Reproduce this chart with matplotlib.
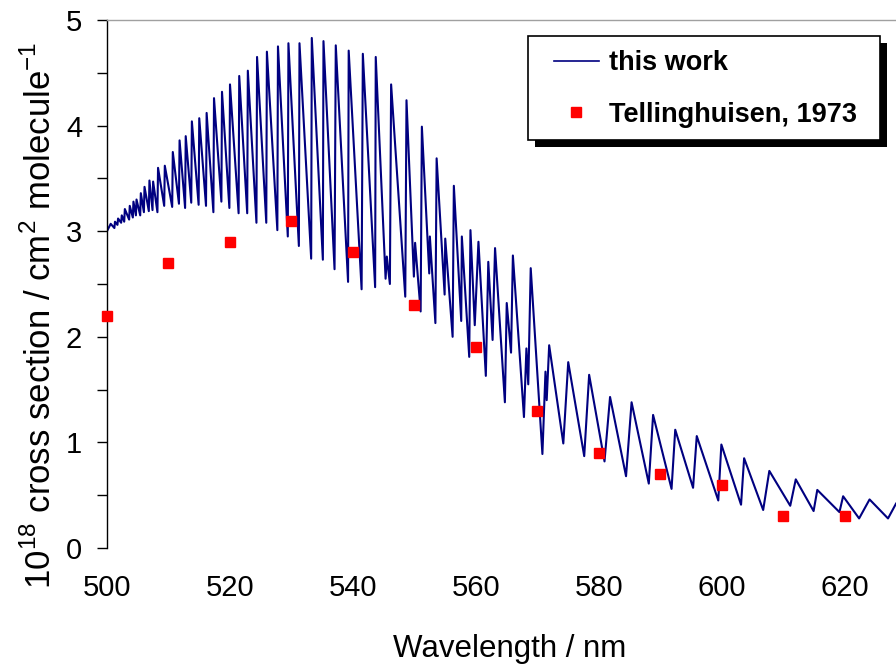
import matplotlib
matplotlib.use("Agg")
from matplotlib import pyplot as plt  # Graphics
from matplotlib.lines import Line2D
from matplotlib.patches import Rectangle
from matplotlib.ticker import MultipleLocator

plt.rcParams['font.family'] = ['Liberation Sans', 'DejaVu Sans']
plt.rcParams['mathtext.fontset'] = 'custom'
plt.rcParams['mathtext.rm'] = 'Liberation Sans'

# "this work" spectrum, read band by band: trough before each head, then the head peak
trough_nm = [500.0, 501.2, 501.7, 502.3, 502.8, 503.6, 504.2, 504.7, 505.4, 506.0,
             506.8, 507.4, 508.2, 509.3, 510.6, 511.7, 512.7, 513.7, 514.9, 516.1,
             517.3, 518.6, 519.9, 521.4, 522.8, 524.3, 525.9, 527.7, 529.4, 531.2,
             533.2, 535.1, 537.0, 539.2, 541.4, 543.6, 545.3, 546.0, 548.5, 549.9,
             551.0, 552.4, 553.4, 554.9, 556.2, 557.6, 558.9, 559.8, 561.6, 562.7,
             564.7, 565.7, 567.8, 568.5, 570.8, 571.5, 574.2, 577.6, 580.9, 584.4,
             588.1, 591.8, 595.3, 599.4, 603.1, 606.7, 611.1, 614.9, 619.1, 622.3,
             627.0]
trough_val = [3.00, 3.03, 3.06, 3.08, 3.09, 3.11, 3.13, 3.15, 3.15, 3.18,
              3.19, 3.20, 3.18, 3.24, 3.23, 3.26, 3.22, 3.27, 3.25, 3.24,
              3.18, 3.28, 3.22, 3.17, 3.17, 3.08, 3.08, 3.01, 2.95, 2.86,
              2.74, 2.73, 2.64, 2.52, 2.45, 2.47, 2.55, 2.50, 2.38, 2.57,
              2.24, 2.60, 2.13, 2.40, 2.00, 2.15, 1.81, 2.11, 1.63, 1.97,
              1.38, 1.85, 1.24, 1.55, 0.89, 1.40, 0.99, 0.87, 0.82, 0.68,
              0.61, 0.56, 0.57, 0.45, 0.41, 0.36, 0.40, 0.35, 0.34, 0.28,
              0.28]
peak_nm = [500.6, 501.3, 501.8, 502.4, 502.9, 503.7, 504.3, 504.8, 505.5, 506.1,
           506.9, 507.5, 508.3, 509.4, 510.7, 511.8, 512.8, 513.8, 515.0, 516.2,
           517.4, 518.7, 520.0, 521.5, 522.9, 524.4, 526.0, 527.8, 529.5, 531.3,
           533.3, 535.2, 537.2, 539.3, 541.6, 543.7, 545.5, 546.2, 548.7, 550.1,
           551.2, 552.5, 553.6, 555.0, 556.4, 557.7, 559.1, 560.4, 562.0, 563.1,
           565.0, 566.0, 568.2, 568.9, 571.3, 571.9, 575.0, 578.4, 581.8, 585.3,
           588.8, 592.4, 595.9, 599.9, 603.6, 607.7, 612.0, 615.5, 619.7, 624.0,
           628.3]
peak_val = [3.07, 3.09, 3.12, 3.15, 3.21, 3.24, 3.28, 3.30, 3.36, 3.42,
            3.48, 3.47, 3.60, 3.62, 3.75, 3.86, 3.90, 4.04, 4.07, 4.12,
            4.26, 4.32, 4.39, 4.47, 4.52, 4.65, 4.70, 4.75, 4.78, 4.78,
            4.83, 4.80, 4.76, 4.71, 4.68, 4.65, 2.76, 4.39, 4.24, 2.89,
            3.99, 2.95, 3.69, 2.93, 3.43, 2.95, 3.01, 2.90, 2.71, 2.84,
            2.32, 2.77, 1.89, 2.65, 1.67, 1.92, 1.76, 1.64, 1.43, 1.38,
            1.26, 1.12, 1.06, 0.98, 0.85, 0.73, 0.65, 0.55, 0.49, 0.46,
            0.42]

# Tellinghuisen, 1973
ref_nm = [500, 510, 520, 530, 540, 550, 560, 570, 580, 590, 600, 610, 620]
ref_val = [2.2, 2.7, 2.9, 3.1, 2.8, 2.3, 1.9, 1.3, 0.9, 0.7, 0.6, 0.3, 0.3]

x_ticks = [500, 520, 540, 560, 580, 600, 620]

# trough -> peak -> next trough ...
spec_x, spec_y = [], []
for i in range(len(trough_nm)):
    spec_x += [trough_nm[i], peak_nm[i]]
    spec_y += [trough_val[i], peak_val[i]]

fig = plt.figure(figsize=(8.96, 6.64), dpi=100)
# plot area runs a little past the right edge of the picture
ax = fig.add_axes([107 / 896, 1 - 548 / 664, 805 / 896, 528 / 664])

ax.plot(spec_x, spec_y, color='#000080', lw=1.5, zorder=2)
ax.plot(ref_nm, ref_val, ls='none', marker='s', ms=7.8, color='#ff0000',
        mec='#ff0000', zorder=3, clip_on=False)

ax.set_xlim(500, 630.9)
ax.set_ylim(0, 5)
ax.set_xticks(x_ticks)
ax.yaxis.set_major_locator(MultipleLocator(1))
ax.yaxis.set_minor_locator(MultipleLocator(0.5))
ax.tick_params(axis='both', which='both', direction='out', labelsize=21, width=1)
ax.tick_params(axis='y', which='major', length=7, pad=11)
ax.tick_params(axis='y', which='minor', length=7)
ax.tick_params(axis='x', which='major', length=0, pad=19)

ax.spines['right'].set_visible(False)
ax.spines['bottom'].set_visible(False)
ax.spines['top'].set_color('#a0a0a0')
ax.spines['top'].set_linewidth(1)
ax.spines['left'].set_linewidth(1)

ax.set_xlabel('Wavelength / nm', fontsize=22.5, labelpad=23)
ax.set_ylabel(r'10$^{18}$ cross section / cm$^{2}$ molecule$^{-1}$', fontsize=25)
ax.yaxis.set_label_coords(-0.061, 0.441)

# legend: no frame from matplotlib, box and hard black shadow drawn by hand
handles = [Line2D([], [], color='#000080', lw=1.2),
           Line2D([], [], ls='none', marker='s', ms=7.5, color='#ff0000')]
leg = ax.legend(handles, ['this work', 'Tellinghuisen, 1973'], loc='upper right',
                bbox_to_anchor=(869 / 896, 1 - 38 / 664), bbox_transform=fig.transFigure,
                borderaxespad=0, frameon=False, prop={'weight': 'bold', 'size': 19.5},
                handlelength=1.65, handletextpad=0.38, labelspacing=0.95, borderpad=0.45)
fig.canvas.draw()
bb = leg.get_window_extent()
box_x0, box_w = bb.x0 - 14, bb.width + 25
shadow = Rectangle((box_x0 + 7, bb.y0 - 7), box_w, bb.height + 2, transform=None,
                   facecolor='black', edgecolor='none', zorder=4)
frame = Rectangle((box_x0, bb.y0), box_w, bb.height + 2, transform=None,
                  facecolor='white', edgecolor='black', lw=1.2, zorder=4.5)
fig.add_artist(shadow)
fig.add_artist(frame)
leg.set_zorder(5)
leg.remove()
fig.add_artist(leg)

fig.savefig('out.png', dpi=100)
